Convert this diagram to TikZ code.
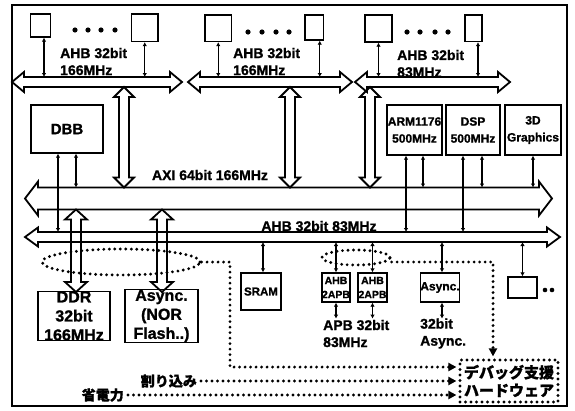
\documentclass[tikz,border=0pt]{standalone}
\usepackage{fontspec}
\setmainfont{Liberation Sans}[BoldFeatures={FakeBold=1.2}]
\newfontfamily\jpfont{Noto Sans CJK JP}[BoldFeatures={FakeBold=1}]
\usetikzlibrary{arrows.meta,shapes.geometric}
\newcommand\hbus[7]{%
  \draw[bus] (#2,#4) -- ({#2+#7},{#4-#6}) -- ({#2+#7},{#4-#5}) -- ({#3-#7},{#4-#5}) -- ({#3-#7},{#4-#6}) -- (#3,#4)
    -- ({#3-#7},{#4+#6}) -- ({#3-#7},{#4+#5}) -- ({#2+#7},{#4+#5}) -- ({#2+#7},{#4+#6}) -- cycle;
  \coordinate (#1-t) at ({(#2+#3)/2},{#4-#5});
  \coordinate (#1-b) at ({(#2+#3)/2},{#4+#5});
}
\newcommand\vbus[7]{%
  \draw[bus] (#2,#3) -- ({#2+#6},{#3+#7}) -- ({#2+#5},{#3+#7}) -- ({#2+#5},{#4-#7}) -- ({#2+#6},{#4-#7}) -- (#2,#4)
    -- ({#2-#6},{#4-#7}) -- ({#2-#5},{#4-#7}) -- ({#2-#5},{#3+#7}) -- ({#2-#6},{#3+#7}) -- cycle;
  \coordinate (#1) at (#2,{(#3+#4)/2});
}
\begin{document}
\begin{tikzpicture}[x=1pt,y=-1pt,
  bus/.style={line width=1.8pt, line join=miter},
  box/.style={draw, line width=1.3pt, inner sep=0pt, align=center, font=\bfseries},
  conn/.style={line width=1.4pt, {Latex[length=4pt,width=4.5pt]}-{Latex[length=4pt,width=4.5pt]}},
  dotl/.style={line width=3.2pt, line cap=round, dash pattern=on 0pt off 5.5pt},
  dtip/.style={-{Triangle[length=8pt,width=8pt]}},
  lbl/.style={inner sep=0pt, align=left, font=\bfseries\fontsize{14}{17}\selectfont},
]
\useasboundingbox (0,0) rectangle (575,410);
\draw[line width=1.4pt] (12,5) rectangle (567,406);

% top buses
\hbus{bus1}{12}{182}{82}{5}{10}{12}
\hbus{bus2}{188}{352}{82}{5}{10}{12}
\hbus{bus3}{355}{510}{82}{5}{10}{12}
% main buses
\hbus{axi}{25}{552}{198.5}{11}{17}{13}
\hbus{ahb}{25}{560}{237}{5}{9.5}{13}

% vertical hollow arrows
\vbus{v1}{124}{87}{187.5}{5}{10}{10}
\vbus{v2}{290}{87}{187.5}{5}{10}{10}
\vbus{v3}{370}{87}{187.5}{5}{10}{10}
\vbus{m1}{76}{209.5}{292}{5}{11}{10}
\vbus{m2}{162}{209.5}{292}{5}{11}{10}

% top small boxes
\node[box, minimum width=20pt, minimum height=23pt] (t1a) at (40.5,25.5) {};
\node[box, minimum width=26.5pt, minimum height=27.5pt] (t1b) at (144.75,27.75) {};
\node[box, minimum width=26.5pt, minimum height=26.5pt] (t2a) at (218.25,28.25) {};
\node[box, minimum width=18.5pt, minimum height=25pt] (t2b) at (314.25,27.5) {};
\node[box, minimum width=27pt, minimum height=27pt] (t3a) at (378.5,28.5) {};
\node[box, minimum width=17pt, minimum height=26.5pt] (t3b) at (473.5,28.25) {};

\draw[conn] ([xshift=3.5pt]t1a.south) -- ([xshift=3.5pt]t1a.south |- bus1-t);
\draw[conn] (t1b.south) -- (t1b.south |- bus1-t);
\draw[conn] (t2a.south) -- (t2a.south |- bus2-t);
\draw[conn] ([xshift=5.5pt]t2b.south) -- ([xshift=5.5pt]t2b.south |- bus2-t);
\draw[conn] (t3a.south) -- (t3a.south |- bus3-t);
\draw[conn] ([xshift=4.5pt]t3b.south) -- ([xshift=4.5pt]t3b.south |- bus3-t);

\foreach \x in {75,88,101,115} \fill (\x,30) circle[radius=2.6pt];
\foreach \x in {248,262,276,289} \fill (\x,32) circle[radius=2.6pt];
\foreach \x in {407,420,435,448} \fill (\x,32) circle[radius=2.6pt];

\node[lbl, anchor=west] (l1) at (60,61.5) {AHB 32bit\\166MHz};
\node[lbl, anchor=west] (l2) at (233,61.5) {AHB 32bit\\166MHz};
\node[lbl, anchor=west] (l3) at (397,63.5) {AHB 32bit\\83MHz};

% DBB and processors
\node[box, minimum width=72pt, minimum height=48pt, font=\bfseries\fontsize{15}{18}\selectfont] (dbb) at (67,129) {DBB};
\node[box, minimum width=55pt, minimum height=50pt, font=\bfseries\fontsize{12}{17}\selectfont] (arm) at (414.5,130) {ARM1176\\500MHz};
\node[box, minimum width=54pt, minimum height=50pt, font=\bfseries\fontsize{12}{17}\selectfont] (dsp) at (473,130) {DSP\\500MHz};
\node[box, minimum width=56pt, minimum height=50pt, font=\bfseries\fontsize{12}{17}\selectfont] (gfx) at (533,130) {3D\\Graphics};

\draw[conn] ([xshift=-9pt]dbb.south) -- ([xshift=-9pt]dbb.south |- ahb-t);
\draw[conn] ([xshift=9pt]dbb.south) -- ([xshift=9pt]dbb.south |- axi-t);
\draw[conn] ([xshift=-8.5pt]arm.south) -- ([xshift=-8.5pt]arm.south |- ahb-t);
\draw[conn] ([xshift=8.5pt]arm.south) -- ([xshift=8.5pt]arm.south |- axi-t);
\draw[conn] ([xshift=-10pt]dsp.south) -- ([xshift=-10pt]dsp.south |- ahb-t);
\draw[conn] ([xshift=9pt]dsp.south) -- ([xshift=9pt]dsp.south |- axi-t);
\draw[conn] (gfx.south) -- (gfx.south |- axi-t);

\node[lbl, anchor=center] (laxi) at (210,175) {AXI 64bit 166MHz};
\node[lbl, anchor=center] (lahb) at (319,226) {AHB 32bit 83MHz};

% memories
\node[box, minimum width=72pt, minimum height=48pt, font=\bfseries\fontsize{16}{19}\selectfont] (ddr) at (74,316) {DDR\\32bit\\166MHz};
\node[box, minimum width=73pt, minimum height=48pt, font=\bfseries\fontsize{16}{19}\selectfont] (nor) at (161.5,316) {Async.\\(NOR\\Flash..)};
\node[box, minimum width=40pt, minimum height=37pt, font=\bfseries\fontsize{11.5}{14}\selectfont] (sram) at (261,291.5) {SRAM};
\draw[conn] ([xshift=2pt]sram.north |- ahb-b) -- ([xshift=2pt]sram.north);

% peripherals
\node[box, minimum width=28pt, minimum height=29pt, font=\bfseries\fontsize{10.5}{14}\selectfont] (a2p1) at (336,287.5) {AHB\\2APB};
\node[box, minimum width=29pt, minimum height=29pt, font=\bfseries\fontsize{10.5}{14}\selectfont] (a2p2) at (372.5,287.5) {AHB\\2APB};
\node[box, minimum width=26pt, minimum height=29pt, font=\bfseries\fontsize{12}{14}\selectfont] (asy) at (440,287.5) {Async.};
\node[box, minimum width=29pt, minimum height=21pt] (rb) at (522.5,287.5) {};
\fill (545,290) circle[radius=2.3pt];
\fill (552,290) circle[radius=2.3pt];

\draw[conn] (a2p1.north |- ahb-b) -- (a2p1.north);
\draw[conn] (a2p2.north |- ahb-b) -- (a2p2.north);
\draw[conn] ([xshift=2pt]asy.north |- ahb-b) -- ([xshift=2pt]asy.north);
\draw[conn] (rb.north |- ahb-b) -- (rb.north);
\draw[conn] (a2p1.south) -- ([yshift=-16pt]a2p1.south);
\draw[conn] (a2p2.south) -- ([yshift=-16pt]a2p2.south);
\draw[conn] ([xshift=2pt]asy.south) -- ([xshift=2pt,yshift=-16pt]asy.south);

\node[lbl, anchor=west] (lapb) at (323,333.5) {APB 32bit\\83MHz};
\node[lbl, anchor=west] (lasy) at (420,333.5) {32bit\\Async.};

% debug support
\node[draw, dotl, minimum width=98pt, minimum height=42pt, inner sep=0pt, align=center,
      font=\jpfont\bfseries\fontsize{15}{18}\selectfont] (dbg) at (509,381) {デバッグ支援\\ハードウェア};

\node[draw, dotl, ellipse, minimum width=158pt, minimum height=26pt, inner sep=0pt] (e1) at (121,262) {};
\node[draw, dotl, ellipse, minimum width=68pt, minimum height=15pt, inner sep=0pt] (e2) at (356,257.5) {};

\coordinate (c1) at (230,262);
\coordinate (c2) at (230,367);
\draw[dotl, dtip] (e1.east) -- (c1) -- (c2) -- ([xshift=-2pt]c2 -| dbg.west);
\coordinate (c3) at (493,262);
\draw[dotl, dtip] (e2.east |- c3) -- (c3) -- ([yshift=2pt]c3 |- dbg.north);

\node[lbl, anchor=east, font=\jpfont\bfseries\fontsize{14}{17}\selectfont] (irq) at (197,381) {割り込み};
\node[lbl, anchor=east, font=\jpfont\bfseries\fontsize{14}{17}\selectfont] (pwr) at (124,395) {省電力};
\draw[dotl, dtip] ([xshift=4pt]irq.east) -- ([xshift=-2pt]irq.east -| dbg.west);
\draw[dotl, dtip] ([xshift=4pt]pwr.east) -- ([xshift=-2pt]pwr.east -| dbg.west);
\end{tikzpicture}
\end{document}
